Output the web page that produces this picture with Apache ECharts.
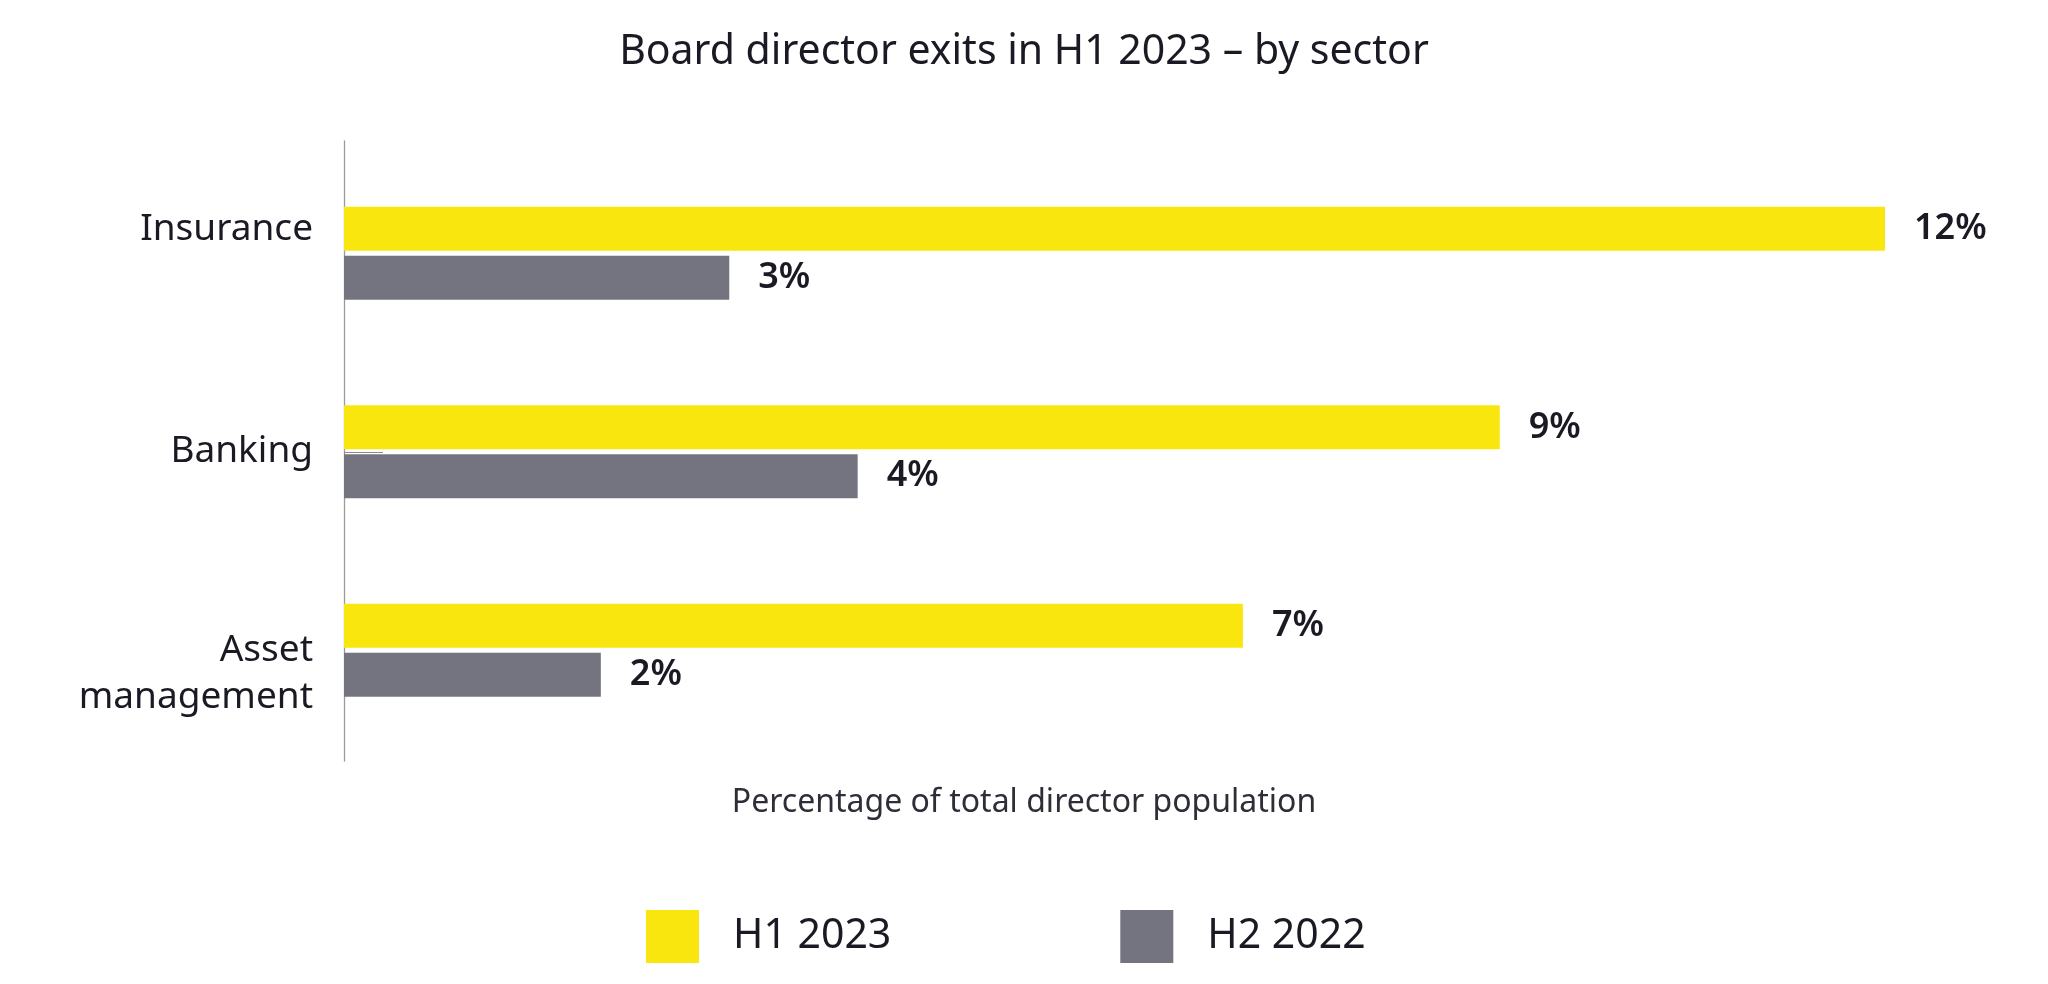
<!DOCTYPE html>
<html>
<head>
<meta charset="utf-8">
<script src="https://cdn.jsdelivr.net/npm/echarts@6/dist/echarts.min.js"></script>
<style>
  html, body { margin: 0; padding: 0; background: #ffffff; }
  #chart { width: 2048px; height: 984px; }
</style>
</head>
<body>
<div id="chart"></div>
<script>
// ---- data ----
const categories = ['Insurance', 'Banking', 'Asset\nmanagement'];
const seriesNames = ['H1 2023', 'H2 2022'];
const h1_2023 = [12, 9, 7];
const h2_2022 = [3, 4, 2];
const chartTitle = 'Board director exits in H1 2023 \u2013 by sector';
const xAxisTitle = 'Percentage of total director population';

// ---- styles ----
const YELLOW = '#F9E60F';
const GREY = '#747480';
const TEXT = '#1a1a24';
const FONT = '"Noto Sans", "Open Sans", sans-serif';
// vertical nudges of the category labels (spacer line before / after)
const labelSpacerBefore = [0, 0, 48];
const labelSpacerAfter = [47, 0, 0];

function categoryLabel(value, index) {
  const lines = String(value).split('\n').map(l => '{t|' + l + '}');
  if (labelSpacerBefore[index]) lines.unshift('{sb' + index + '| }');
  if (labelSpacerAfter[index]) lines.push('{sa' + index + '| }');
  return lines.join('\n');
}
const labelRich = { t: { fontFamily: FONT, fontSize: 37, lineHeight: 47, color: TEXT, align: 'right' } };
categories.forEach((c, i) => {
  labelRich['sb' + i] = { fontSize: 2, lineHeight: labelSpacerBefore[i] || 1 };
  labelRich['sa' + i] = { fontSize: 2, lineHeight: labelSpacerAfter[i] || 1 };
});

const chart = echarts.init(document.getElementById('chart'), null, { renderer: 'canvas' });

const option = {
  backgroundColor: '#ffffff',
  animation: false,
  textStyle: { fontFamily: FONT },
  title: {
    text: chartTitle,
    left: 'center',
    top: 27,
    textStyle: { fontFamily: FONT, fontSize: 41, fontWeight: 'normal', color: TEXT }
  },
  legend: {
    data: seriesNames,
    left: 641,
    top: 905,
    icon: 'rect',
    itemWidth: 53,
    itemHeight: 53,
    itemGap: 229,
    textStyle: { fontFamily: FONT, fontSize: 41, color: TEXT, padding: [0, 0, 0, 29] }
  },
  grid: [
    { left: 344, right: 163, top: 154, height: 595.5, containLabel: false },
    { left: 344, width: 1360, top: 141, height: 620, containLabel: false }
  ],
  xAxis: [
    {
      gridIndex: 0,
      type: 'value',
      min: 0,
      max: 12,
      axisLine: { show: false },
      axisTick: { show: false },
      axisLabel: { show: false },
      splitLine: { show: false }
    },
    {
      gridIndex: 1,
      type: 'value',
      axisLine: { show: false },
      axisTick: { show: false },
      axisLabel: { show: false },
      splitLine: { show: false },
      name: xAxisTitle,
      nameLocation: 'middle',
      nameGap: 26,
      nameTextStyle: { fontFamily: FONT, fontSize: 32, color: '#2e2e38' }
    }
  ],
  yAxis: [
    {
      gridIndex: 0,
      type: 'category',
      inverse: true,
      data: categories,
      axisLine: { show: false },
      axisTick: {
        show: true,
        inside: true,
        length: 39,
        alignWithLabel: true,
        interval: (idx) => idx === 1,
        lineStyle: { color: '#8a8a8a', width: 1 }
      },
      axisLabel: {
        margin: 31,
        fontFamily: FONT,
        fontSize: 37,
        color: TEXT,
        align: 'right',
        formatter: categoryLabel,
        rich: labelRich
      },
      splitLine: { show: false }
    },
    {
      gridIndex: 1,
      type: 'value',
      axisLine: { show: true, onZero: false, lineStyle: { color: '#9a9a9a', width: 1.3 } },
      axisTick: { show: false },
      axisLabel: { show: false },
      splitLine: { show: false }
    }
  ],
  series: [
    {
      name: seriesNames[0],
      type: 'bar',
      xAxisIndex: 0,
      yAxisIndex: 0,
      data: h1_2023,
      barWidth: 44,
      barGap: '11%',
      itemStyle: { color: YELLOW },
      label: {
        show: true,
        position: 'right',
        distance: 29,
        formatter: '{c}%',
        fontFamily: FONT,
        fontSize: 36,
        fontWeight: 600,
        color: TEXT
      }
    },
    {
      name: seriesNames[1],
      type: 'bar',
      xAxisIndex: 0,
      yAxisIndex: 0,
      data: h2_2022,
      barWidth: 44,
      barGap: '11%',
      itemStyle: { color: GREY },
      label: {
        show: true,
        position: 'right',
        distance: 29,
        formatter: '{c}%',
        fontFamily: FONT,
        fontSize: 36,
        fontWeight: 600,
        color: TEXT
      }
    }
  ]
};

chart.setOption(option);
</script>
</body>
</html>
